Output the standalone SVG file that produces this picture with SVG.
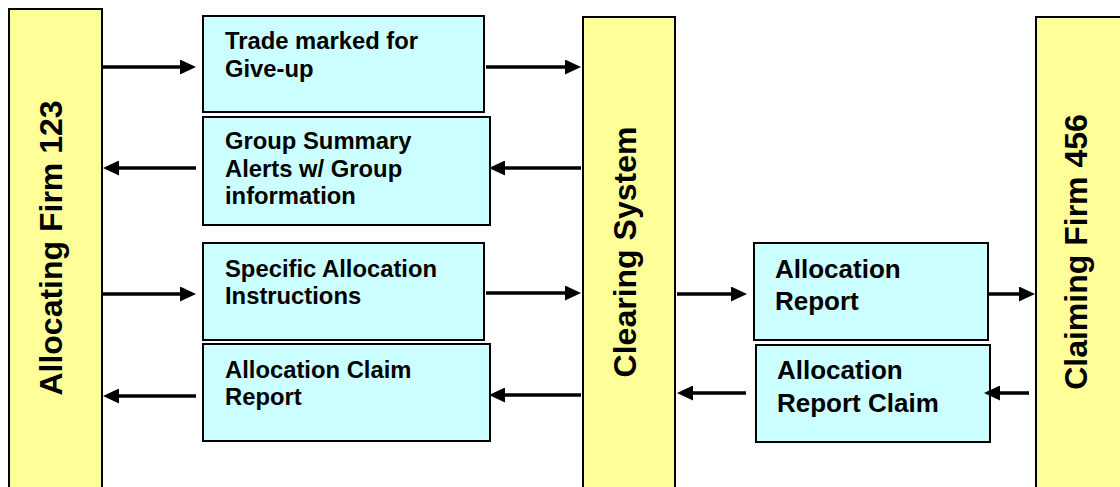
<svg xmlns="http://www.w3.org/2000/svg" width="1120" height="487" viewBox="0 0 1120 487">
  <style>
    .bar { fill: #FFFF99; stroke: #000; stroke-width: 2; }
    .box { fill: #CCFFFF; stroke: #000; stroke-width: 2; }
    .vlabel { font-family: "Liberation Sans", Arial, sans-serif; font-weight: bold; font-size: 32px; fill: #000; }
    .blabel { font-family: "Liberation Sans", Arial, sans-serif; font-weight: bold; font-size: 23.8px; fill: #000; }
    .blabel2 { font-family: "Liberation Sans", Arial, sans-serif; font-weight: bold; font-size: 26px; fill: #000; }
    .conn { stroke: #000; stroke-width: 3.5; fill: none; marker-end: url(#head); }
  </style>
  <defs>
    <marker id="head" markerUnits="userSpaceOnUse" markerWidth="16" markerHeight="15" refX="0" refY="7.5" orient="auto" viewBox="0 0 16 15">
      <path d="M0,0 L16,7.5 L0,15 z" fill="#000"/>
    </marker>
  </defs>
  <rect width="1120" height="487" fill="#fff"/>

  <!-- participants -->
  <g id="allocating-firm">
    <rect class="bar" x="9" y="9" width="93" height="500"/>
    <text class="vlabel" transform="translate(62,248) rotate(-90)" text-anchor="middle">Allocating Firm 123</text>
  </g>
  <g id="clearing-system">
    <rect class="bar" x="583" y="17" width="92" height="490"/>
    <text class="vlabel" transform="translate(636,252) rotate(-90)" text-anchor="middle">Clearing System</text>
  </g>
  <g id="claiming-firm">
    <rect class="bar" x="1036" y="17" width="100" height="490"/>
    <text class="vlabel" transform="translate(1087,252) rotate(-90)" text-anchor="middle">Claiming Firm 456</text>
  </g>

  <!-- messages -->
  <g id="msg-giveup">
    <rect class="box" x="203" y="16" width="281" height="96"/>
    <text class="blabel" x="225" y="49">Trade marked for</text>
    <text class="blabel" x="225" y="77">Give-up</text>
  </g>
  <g id="msg-group-summary">
    <rect class="box" x="203" y="117" width="287" height="108"/>
    <text class="blabel" x="225" y="149">Group Summary</text>
    <text class="blabel" x="225" y="177">Alerts w/ Group</text>
    <text class="blabel" x="225" y="204">information</text>
  </g>
  <g id="msg-instructions">
    <rect class="box" x="203" y="243" width="281" height="97"/>
    <text class="blabel" x="225" y="277">Specific Allocation</text>
    <text class="blabel" x="225" y="304">Instructions</text>
  </g>
  <g id="msg-claim-report">
    <rect class="box" x="203" y="344" width="287" height="97"/>
    <text class="blabel" x="225" y="378">Allocation Claim</text>
    <text class="blabel" x="225" y="405">Report</text>
  </g>
  <g id="msg-allocation-report">
    <rect class="box" x="754" y="243" width="234" height="97"/>
    <text class="blabel2" x="775" y="278">Allocation</text>
    <text class="blabel2" x="775" y="310">Report</text>
  </g>
  <g id="msg-report-claim">
    <rect class="box" x="756" y="345" width="234" height="97"/>
    <text class="blabel2" x="777" y="379">Allocation</text>
    <text class="blabel2" x="777" y="412">Report Claim</text>
  </g>

  <!-- connectors -->
  <g id="connectors">
    <path class="conn" d="M103,67 H180"/>
    <path class="conn" d="M486,67 H565"/>
    <path class="conn" d="M581,168 H505"/>
    <path class="conn" d="M196,168 H119"/>
    <path class="conn" d="M103,294 H180"/>
    <path class="conn" d="M486,293 H565"/>
    <path class="conn" d="M581,395 H505"/>
    <path class="conn" d="M196,396 H119"/>
    <path class="conn" d="M677,294 H731"/>
    <path class="conn" d="M988,294 H1019"/>
    <path class="conn" d="M1029,393 H1000"/>
    <path class="conn" d="M746,393 H693"/>
  </g>
</svg>
